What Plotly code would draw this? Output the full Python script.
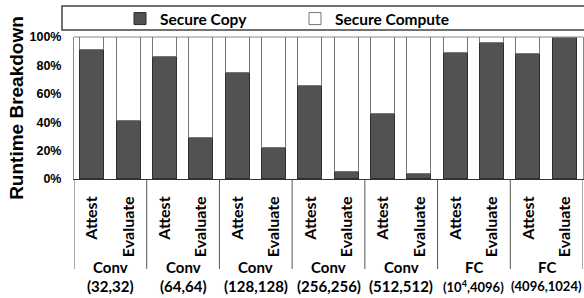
import plotly.graph_objects as go

# ---- data ----
group_names = ["Conv", "Conv", "Conv", "Conv", "Conv", "FC", "FC"]
group_params = ["(32,32)", "(64,64)", "(128,128)", "(256,256)", "(512,512)",
                "(10<sup>4</sup>,4096)", "(4096,1024)"]
phases = ["Attest", "Evaluate"]
attest_copy = [91, 86, 75, 65.5, 46, 88.5, 88]
evaluate_copy = [41, 29, 22, 5, 3.3, 95.7, 99.3]
y_ticks = [0, 20, 40, 60, 80, 100]

# ---- build bar positions from groups ----
offsets = [-0.25, 0.25]
xs, copy_vals, labels = [], [], []
for i in range(len(group_names)):
    for j, (ph, vals) in enumerate(zip(phases, [attest_copy, evaluate_copy])):
        xs.append(i + offsets[j])
        copy_vals.append(vals[i])
        labels.append(ph)
compute_vals = [100 - v for v in copy_vals]

W, H = 584, 298
ml, mr, mt, mb = 74, 1, 37, 119
plot_h = H - mt - mb

fig = go.Figure()
fig.add_trace(go.Bar(x=xs, y=copy_vals, name="Secure Copy", width=0.33,
                     marker=dict(color="#525252", line=dict(color="#2e2e2e", width=1))))
fig.add_trace(go.Bar(x=xs, y=compute_vals, name="Secure Compute", width=0.33,
                     marker=dict(color="#ffffff", line=dict(color="#777777", width=1))))

def ypx(p):
    return (H - mb - p) / plot_h

shapes = []
# group separators below the axis
for i in range(len(group_names) + 1):
    shapes.append(dict(type="line", xref="x", yref="paper", x0=i - 0.5, x1=i - 0.5,
                       y0=0, y1=ypx(269), line=dict(color="#555555", width=1)))
# top border of plot area
shapes.append(dict(type="line", xref="paper", yref="paper", x0=0, x1=1, y0=1, y1=1,
                   line=dict(color="#888888", width=1)))
# legend box
shapes.append(dict(type="rect", xref="paper", yref="paper", x0=(62 - ml) / (W - ml - mr),
                   x1=1.02, y0=ypx(30), y1=ypx(6), line=dict(color="#444444", width=1.5),
                   fillcolor="rgba(0,0,0,0)"))

annotations = []
lab_font = dict(family="Lato", size=15, color="#000000", weight="bold")
for i, (gn, gp) in enumerate(zip(group_names, group_params)):
    annotations.append(dict(x=i, y=ypx(267), xref="x", yref="paper", text=gn, showarrow=False,
                            font=lab_font, xanchor="center", yanchor="middle"))
    sz = 13 if gn == "FC" else 15
    annotations.append(dict(x=i, y=ypx(286), xref="x", yref="paper", text=gp, showarrow=False,
                            font=dict(family="Lato", size=sz, color="#000000", weight="bold"),
                            xanchor="center", yanchor="middle"))

fig.update_layout(
    width=W, height=H, barmode="stack",
    margin=dict(l=ml, r=mr, t=mt, b=mb, autoexpand=False),
    plot_bgcolor="white", paper_bgcolor="white",
    showlegend=True,
    legend=dict(orientation="h", x=(120 - ml) / (W - ml - mr), xanchor="left",
                y=ypx(19), yanchor="middle", entrywidth=130, traceorder="normal",
                bgcolor="rgba(0,0,0,0)", borderwidth=0,
                font=dict(family="Lato", size=15.5, color="#000000", weight="bold")),
    shapes=shapes, annotations=annotations,
    xaxis=dict(range=[-0.5, len(group_names) - 0.5], tickmode="array", tickvals=xs,
               ticktext=labels, tickangle=-90, showgrid=False, zeroline=False,
               showline=True, linecolor="#333333", linewidth=1,
               ticks="outside", ticklen=10, tickcolor="rgba(0,0,0,0)",
               tickfont=dict(family="Lato", size=16, color="#000000", weight="bold")),
    yaxis=dict(range=[0, 100], tickmode="array", tickvals=y_ticks,
               ticktext=[f"{v}%" for v in y_ticks], showgrid=False, zeroline=False,
               showline=True, linecolor="#888888", linewidth=1, mirror=True,
               ticks="outside", ticklen=9, tickcolor="rgba(0,0,0,0)",
               tickfont=dict(family="Liberation Sans", size=12.5, color="#000000", weight="bold"),
               title=dict(text="Runtime Breakdown", standoff=0,
                          font=dict(family="Liberation Sans", size=19, color="#000000",
                                    weight="bold"))),
    bargap=0,
)

fig.write_html("out.html", config={"displayModeBar": False},
               post_script="document.body.style.margin='0';document.body.style.padding='0';")
